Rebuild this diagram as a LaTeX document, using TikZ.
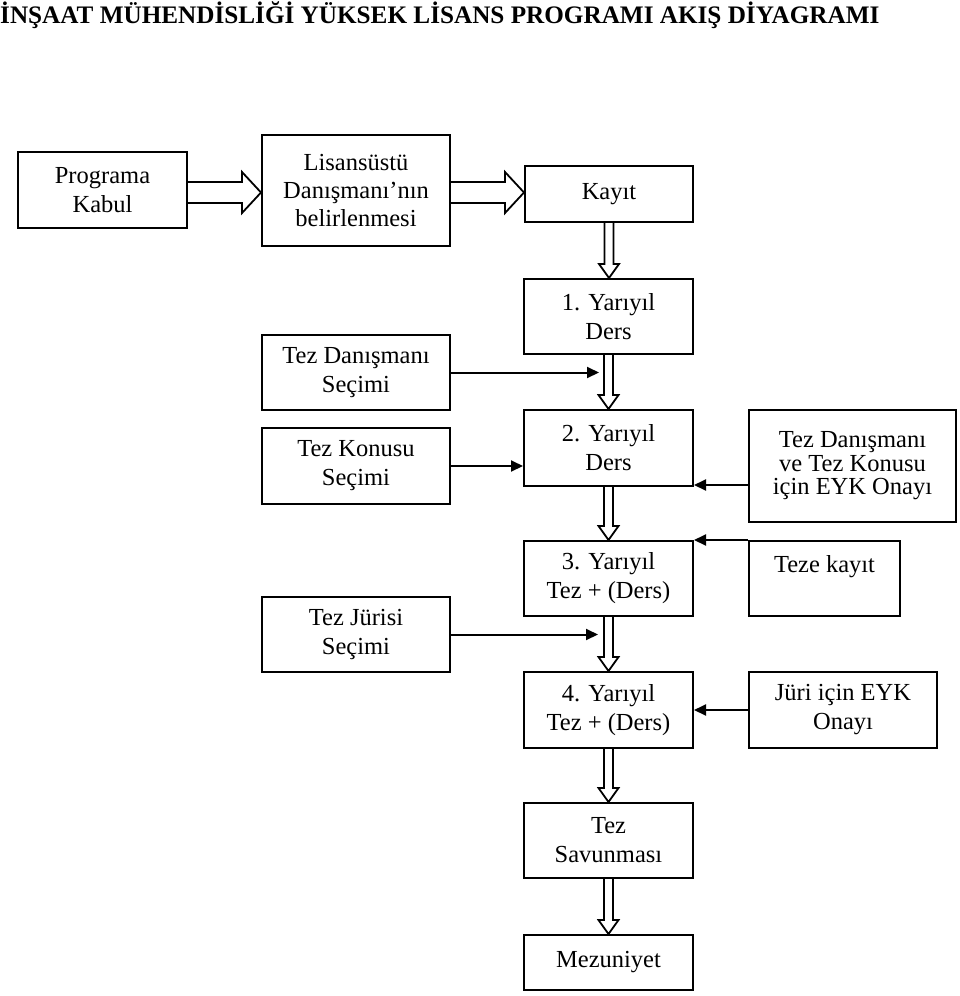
\documentclass[tikz,border=0pt]{standalone}
\usepackage{fontspec}
\setmainfont{Liberation Serif}
\usetikzlibrary{arrows.meta,calc}
\tikzset{
  box/.style={draw, line width=2pt, inner sep=0pt, align=center,
    font=\fontsize{24.5}{29}\selectfont},
  hol/.style={draw, line width=1.8pt, line join=miter},
  arr/.style={line width=2pt, -{Triangle[length=12pt,width=11pt]}},
  ttl/.style={font=\fontsize{25.2}{29}\selectfont\bfseries, inner sep=0pt, anchor=base west}
}
\newcommand\hollowright[2]{\draw[hol] let \p1=(#1), \p2=(#2) in
  (\x1,{\y1+10.5pt}) -- ({\x2-19pt},{\y1+10.5pt}) -- ({\x2-19pt},{\y1+20.5pt}) -- (\x2,\y1)
  -- ({\x2-19pt},{\y1-20.5pt}) -- ({\x2-19pt},{\y1-10.5pt}) -- (\x1,{\y1-10.5pt});}
\newcommand\hollowdown[2]{\draw[hol] let \p1=(#1), \p2=(#2) in
  ({\x1-4.5pt},\y1) -- ({\x1-4.5pt},{\y2+14pt}) -- ({\x1-10pt},{\y2+14pt}) -- (\x1,\y2)
  -- ({\x1+10pt},{\y2+14pt}) -- ({\x1+4.5pt},{\y2+14pt}) -- ({\x1+4.5pt},\y1);}
\begin{document}
\begin{tikzpicture}[x=1pt,y=-1pt]
\useasboundingbox (0,0) rectangle (960,996);
\node[ttl] (title) at (0,23) {İNŞAAT MÜHENDİSLİĞİ YÜKSEK LİSANS PROGRAMI AKIŞ DİYAGRAMI};

\node[box, minimum width=169pt, minimum height=76pt] (pk) at (102.5,190) {Programa\\Kabul};
\node[box, minimum width=188pt, minimum height=111pt, font=\fontsize{24.5}{28}\selectfont] (lis) at (356,190.5) {Lisansüstü\\Danışmanı’nın\\belirlenmesi};
\node[box, minimum width=168pt, minimum height=56pt] (kay) at (609,194) {Kayıt};

\node[box, minimum width=169pt, minimum height=75pt] (y1) at (608.5,316.5) {1. Yarıyıl\\Ders};
\node[box, minimum width=169pt, minimum height=76pt] (y2) at (608.5,448) {2. Yarıyıl\\Ders};
\node[box, minimum width=169pt, minimum height=75pt] (y3) at (608.5,578.5) {3. Yarıyıl\\Tez + (Ders)};
\node[box, minimum width=169pt, minimum height=76pt] (y4) at (608.5,710) {4. Yarıyıl\\Tez + (Ders)};
\node[box, minimum width=169pt, minimum height=75pt] (sav) at (608.5,840.5) {Tez\\Savunması};
\node[box, minimum width=169pt, minimum height=55pt] (mez) at (608.5,962.5) {Mezuniyet};

\node[box, minimum width=188pt, minimum height=75pt] (tds) at (356,372.5) {Tez Danışmanı\\Seçimi};
\node[box, minimum width=188pt, minimum height=76pt] (tks) at (356,466) {Tez Konusu\\Seçimi};
\node[box, minimum width=188pt, minimum height=75pt] (tjs) at (356,634.5) {Tez Jürisi\\Seçimi};

\node[box, minimum width=207pt, minimum height=112pt, font=\fontsize{24.5}{23.5}\selectfont] (eyk) at (852.5,466) {Tez Danışmanı\\ve Tez Konusu\\için EYK Onayı};
\node[box, minimum width=151pt, minimum height=75pt] (tk) at (824.5,578.5) {Teze kayıt\\\mbox{}};
\node[box, minimum width=188pt, minimum height=76pt] (jur) at (843,710) {Jüri için EYK\\Onayı};

% hollow arrows
\hollowright{$(pk.east)+(0,2.5)$}{$(lis.west)+(0,2.5)$}
\hollowright{$(lis.east)+(0,2)$}{$(kay.west)+(0,-1.5)$}
\hollowdown{kay.south}{y1.north}
\hollowdown{y1.south}{y2.north}
\hollowdown{y2.south}{y3.north}
\hollowdown{y3.south}{y4.north}
\hollowdown{y4.south}{sav.north}
\hollowdown{sav.south}{mez.north}

% line arrows
\coordinate (t1) at (599,372.5);
\coordinate (t3) at (598,634.5);
\coordinate (e1) at (749,485);
\draw[arr] (tds.east) -- (t1);
\draw[arr] (tks.east) -- (tks.east -| y2.west);
\draw[arr] (tjs.east) -- (t3);
\draw[arr] (e1) -- (e1 -| y2.east);
\draw[arr] (tk.north west) -- (y3.north east);
\draw[arr] (jur.west) -- (y4.east);
\end{tikzpicture}
\end{document}
